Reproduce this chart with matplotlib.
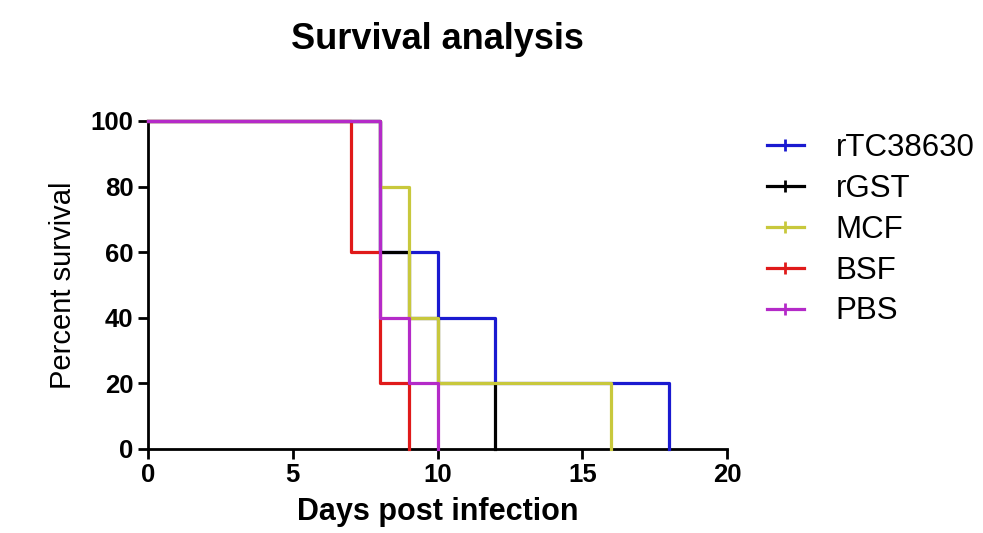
import matplotlib.pyplot as plt

plt.rcParams['font.family'] = ['Liberation Sans', 'DejaVu Sans']

groups = ["rTC38630", "rGST", "MCF", "BSF", "PBS"]
colors = ["#1a1ad0", "#000000", "#c8c83c", "#e01a1a", "#b42ac8"]

# event days and survival (%) after each step, starting from 100 at day 0
days = {
    "rTC38630": [0, 8, 10, 12, 18],
    "rGST": [0, 8, 9, 10, 12],
    "MCF": [0, 8, 9, 10, 16],
    "BSF": [0, 7, 8, 9],
    "PBS": [0, 8, 9, 10],
}
surv = {
    "rTC38630": [100, 60, 40, 20, 0],
    "rGST": [100, 60, 40, 20, 0],
    "MCF": [100, 80, 40, 20, 0],
    "BSF": [100, 60, 20, 0],
    "PBS": [100, 40, 20, 0],
}

fig = plt.figure(figsize=(9.83, 5.33), dpi=100)
ax = fig.add_axes([0.1506, 0.158, 0.589, 0.615])

for i, g in enumerate(groups):
    ax.step(days[g], surv[g], where="post", color=colors[i], lw=2.3,
            label=g, zorder=3 + i, clip_on=False)

ax.set_xlim(0, 20)
ax.set_ylim(0, 100)
ax.set_xticks([0, 5, 10, 15, 20])
ax.set_yticks([0, 20, 40, 60, 80, 100])
ax.spines["top"].set_visible(False)
ax.spines["right"].set_visible(False)
for s in ["left", "bottom"]:
    ax.spines[s].set_linewidth(2)
ax.tick_params(width=2, length=7, labelsize=18.5, direction="out")
for lab in ax.get_xticklabels() + ax.get_yticklabels():
    lab.set_fontweight("bold")

ax.set_xlabel("Days post infection", fontsize=22, fontweight="bold", labelpad=7)
ax.set_ylabel("Percent survival", fontsize=21, labelpad=10)
ax.set_title("Survival analysis", fontsize=26, fontweight="bold", pad=52)

leg = ax.legend(loc="upper left", bbox_to_anchor=(1.02, 1.05), frameon=False,
                fontsize=22.5, handlelength=1.2, labelspacing=0.35, handletextpad=1.0,
                numpoints=1)
for h in leg.legend_handles:
    h.set_marker("|")
    h.set_markersize(9)
    h.set_markeredgewidth(2)

fig.savefig("out.png", dpi=100)
